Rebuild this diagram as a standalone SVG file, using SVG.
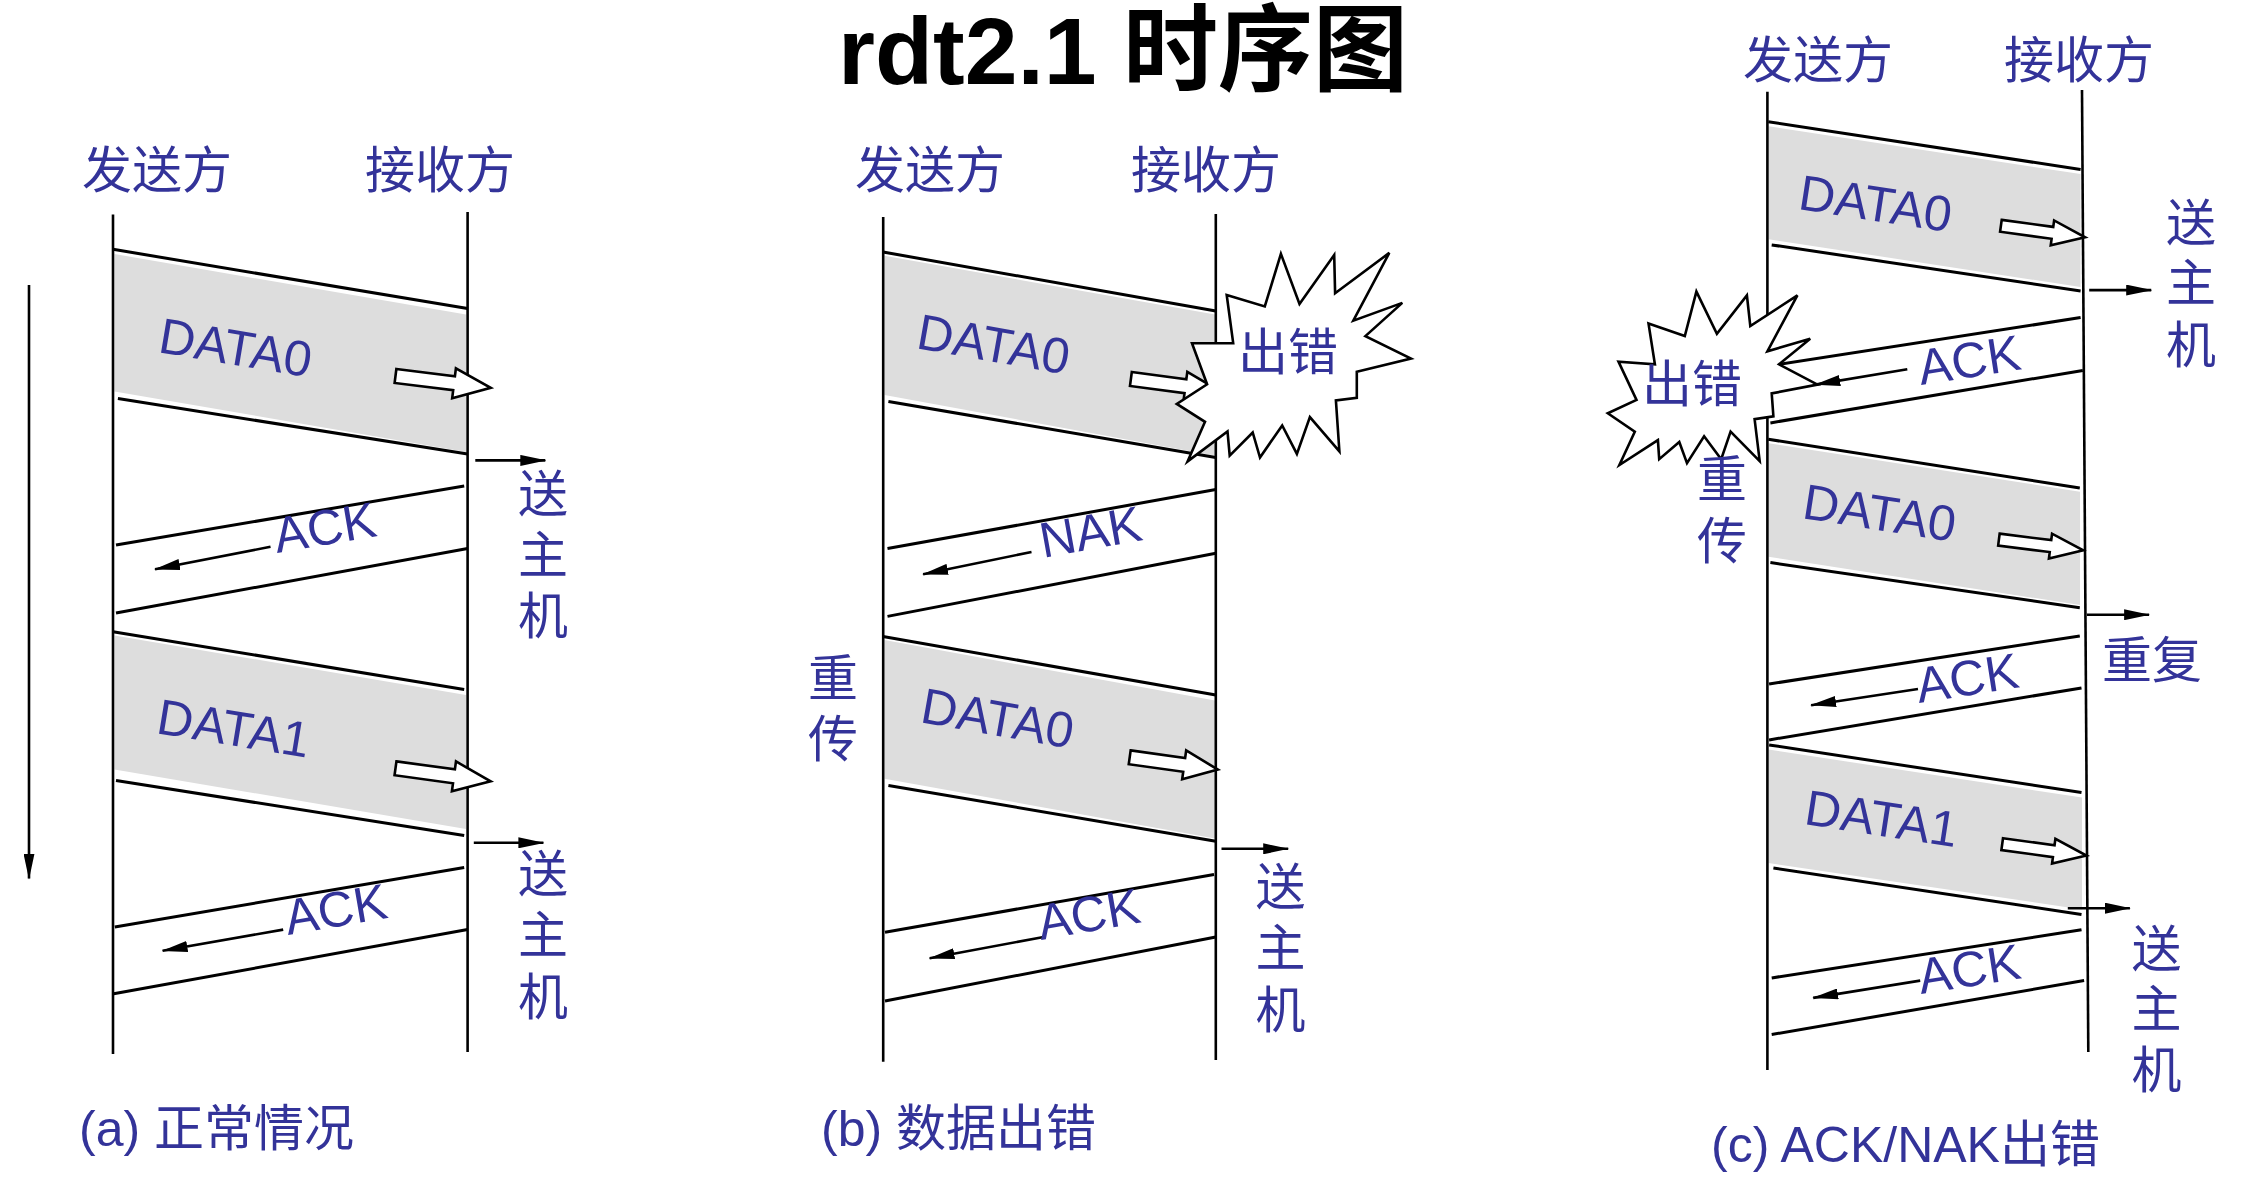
<svg xmlns="http://www.w3.org/2000/svg" xmlns:xlink="http://www.w3.org/1999/xlink" width="2251" height="1184" viewBox="0 0 2251 1184">
<style>
.t{font-family:"Liberation Sans","Noto Sans CJK SC",sans-serif;fill:#333399;font-size:50px}
.lt{font-family:"Liberation Sans","Noto Sans CJK SC",sans-serif;fill:#333399;font-size:50px}
.mid{text-anchor:middle}
.life{stroke:#000;stroke-width:2.6;fill:none}
.ln{stroke:#000;stroke-width:3;fill:none}
.ar{stroke:#000;stroke-width:2.6;fill:none;marker-end:url(#ah)}
.band{fill:#dddddd;stroke:none}
.ha{fill:#fff;stroke:#000;stroke-width:2.6;stroke-linejoin:miter}
.burst{fill:#fff;stroke:#000;stroke-width:2.6;stroke-linejoin:miter}
</style>
<defs>
<marker id="ah" markerWidth="26" markerHeight="11" refX="25" refY="5.5" orient="auto" markerUnits="userSpaceOnUse"><path d="M0,0 L26,5.5 L0,11 Z" fill="#000"/></marker>
<path id="hA" d="M0,-7H59V-15L96,0L59,15V7H0Z"/>
<path id="hB" d="M0,-7H55V-14.5L89,0L55,14.5V7H0Z"/>
<path id="hC" d="M0,-6H52V-12.5L85,0L52,12.5V6H0Z"/>
</defs>
<rect width="2251" height="1184" fill="#fff"/>

<g id="title">
<text x="838" y="84" style="font-family:'Liberation Sans','Noto Sans CJK SC',sans-serif;font-weight:bold;font-size:95px;fill:#000">rdt2.1 时序图</text>
</g>

<!-- Panel A -->
<g id="panel-a">
<g id="a-bands">
<polygon class="band" points="114.5,254 466,314.6 466,452 114.5,391.4"/>
<polygon class="band" points="114.5,635.4 466,695 466,829 114.5,769.5"/>
</g>
<g id="a-sender"><text class="t" x="82" y="188">发送方</text><line class="life" x1="113" y1="214.6" x2="113" y2="1054"/></g>
<g id="a-receiver"><text class="t" x="365" y="188">接收方</text><line class="life" x1="467.6" y1="212" x2="467.6" y2="1052"/></g>
<g id="a-time"><line class="ar" x1="29" y1="285" x2="29" y2="878.6"/></g>
<g id="a-connectors">
<line class="ln" x1="113" y1="249.3" x2="467.6" y2="308.6"/>
<line class="ln" x1="117.9" y1="398.6" x2="467.6" y2="453.9"/>
<use xlink:href="#hA" class="ha" transform="translate(395.5,376) rotate(7.1)"/>
<line class="ar" x1="475.3" y1="460.4" x2="545.3" y2="460.4"/>
<line class="ln" x1="464.2" y1="486" x2="116" y2="545"/>
<line class="ln" x1="467.6" y1="548.6" x2="116" y2="612.9"/>
<line class="ar" x1="270.5" y1="546.8" x2="155" y2="569.3"/>
<line class="ln" x1="113" y1="631.7" x2="464.2" y2="689.4"/>
<line class="ln" x1="116" y1="780.6" x2="464.2" y2="835.4"/>
<use xlink:href="#hA" class="ha" transform="translate(395.5,768.3) rotate(7.8)"/>
<line class="ar" x1="473.8" y1="842.8" x2="543.4" y2="842.8"/>
<line class="ln" x1="464.2" y1="867.4" x2="114.8" y2="927"/>
<line class="ln" x1="467.6" y1="929.6" x2="113.7" y2="993.7"/>
<line class="ar" x1="283.2" y1="929.6" x2="162.6" y2="950.8"/>
</g>
<g id="a-labels">
<text class="lt" x="157" y="352" transform="rotate(9.5 157 352)">DATA0</text>
<text class="lt" x="277" y="553" transform="rotate(-9.6 277 553)">ACK</text>
<text class="lt" x="155" y="733" transform="rotate(9.3 155 733)">DATA1</text>
<text class="lt" x="288" y="935" transform="rotate(-9.7 288 935)">ACK</text>
<text class="t mid"><tspan x="543" y="512">送</tspan><tspan x="543" y="573">主</tspan><tspan x="543" y="634">机</tspan></text>
<text class="t mid"><tspan x="543" y="892">送</tspan><tspan x="543" y="953">主</tspan><tspan x="543" y="1015">机</tspan></text>
<text class="t" x="79" y="1146">(a) 正常情况</text>
</g>
</g>

<!-- Panel B -->
<g id="panel-b">
<g id="b-bands">
<polygon class="band" points="884.5,255.7 1215,314.6 1215,455.7 884.5,395"/>
<polygon class="band" points="884.5,640 1215,700.6 1215,838.4 884.5,778.8"/>
</g>
<g id="b-sender"><text class="t" x="855" y="188">发送方</text><line class="life" x1="883.2" y1="217" x2="883.2" y2="1061.8"/></g>
<g id="b-receiver"><text class="t" x="1131" y="188">接收方</text><line class="life" x1="1215.8" y1="214" x2="1215.8" y2="1060"/></g>
<g id="b-connectors">
<line class="ln" x1="883" y1="252" x2="1215.8" y2="311"/>
<line class="ln" x1="888.4" y1="401.4" x2="1215.8" y2="457.5"/>
<use xlink:href="#hB" class="ha" transform="translate(1130.9,379) rotate(7.5)"/>
<line class="ln" x1="1215.8" y1="489.6" x2="887.5" y2="548.6"/>
<line class="ln" x1="1215.8" y1="553.2" x2="887.5" y2="616.4"/>
<line class="ar" x1="1031.5" y1="552" x2="923.1" y2="574.3"/>
<line class="ln" x1="883" y1="636.5" x2="1215.8" y2="695"/>
<line class="ln" x1="888.4" y1="785.5" x2="1215.8" y2="841.3"/>
<use xlink:href="#hB" class="ha" transform="translate(1129.7,757.3) rotate(7.9)"/>
<line class="ar" x1="1221.5" y1="848.8" x2="1288.2" y2="848.8"/>
<line class="ln" x1="1214" y1="874.5" x2="885" y2="932.2"/>
<line class="ln" x1="1215.8" y1="937" x2="885" y2="1001"/>
<line class="ar" x1="1043.7" y1="937" x2="929.6" y2="958.3"/>
</g>
<g id="b-error">
<polygon class="burst" points="1226.7,295 1264.8,306.4 1280.9,253.9 1299.5,303.9 1334.2,255 1335.1,293.2 1389.3,252.9 1353.3,320.7 1402.3,302.9 1365.4,336.1 1411,358.6 1356.8,371.8 1356.8,397.9 1335.9,400.4 1339.4,451.4 1309.9,417.1 1296.9,453.9 1282.2,425.4 1260,457.5 1252.7,432.5 1229.7,455.7 1227.5,431.4 1187.6,461.4 1205,421.8 1176.8,403.9 1207.1,384.3 1192,343.2 1233.2,343.2"/>
<text class="t" x="1238" y="370">出错</text>
</g>
<g id="b-labels">
<text class="lt" x="915" y="348" transform="rotate(10 915 348)">DATA0</text>
<text class="lt" x="1043" y="558" transform="rotate(-10.2 1043 558)">NAK</text>
<text class="lt" x="919" y="722" transform="rotate(10 919 722)">DATA0</text>
<text class="lt" x="1041" y="940" transform="rotate(-9.9 1041 940)">ACK</text>
<text class="t mid"><tspan x="833" y="696">重</tspan><tspan x="833" y="757">传</tspan></text>
<text class="t mid"><tspan x="1280.5" y="905">送</tspan><tspan x="1280.5" y="966">主</tspan><tspan x="1280.5" y="1028">机</tspan></text>
<text class="t" x="821" y="1146">(b) 数据出错</text>
</g>
</g>

<!-- Panel C -->
<g id="panel-c">
<g id="c-bands">
<polygon class="band" points="1768.5,126.3 2080.5,174.1 2080.5,287 1768.5,239.2"/>
<polygon class="band" points="1768.5,443.2 2080,491.8 2080,605 1768.5,556.8"/>
<polygon class="band" points="1768.5,749.5 2082,797.6 2082,909.4 1768.5,863.1"/>
</g>
<g id="c-sender"><text class="t" x="1743" y="78">发送方</text><line class="life" x1="1767.4" y1="91.8" x2="1767.4" y2="1070"/></g>
<g id="c-receiver"><text class="t" x="2004" y="78">接收方</text><line class="life" x1="2082" y1="90" x2="2088.3" y2="1051.9"/></g>
<g id="c-connectors">
<line class="ln" x1="1768.3" y1="121.7" x2="2080.6" y2="169.5"/>
<line class="ln" x1="1771.7" y1="244.9" x2="2080.6" y2="290.9"/>
<use xlink:href="#hC" class="ha" transform="translate(2000.9,225.8) rotate(7.8)"/>
<line class="ar" x1="2089.2" y1="290.1" x2="2151.2" y2="290.1"/>
<line class="ln" x1="2080.6" y1="317.6" x2="1768" y2="366"/>
<line class="ln" x1="2082.8" y1="370.4" x2="1770.4" y2="422.9"/>
<line class="ln" x1="1768.3" y1="439.3" x2="2079.8" y2="487.9"/>
<line class="ln" x1="1770.4" y1="562.6" x2="2079.8" y2="607.7"/>
<use xlink:href="#hC" class="ha" transform="translate(1998.9,539.6) rotate(7.2)"/>
<line class="ar" x1="2087" y1="614.7" x2="2149.1" y2="614.7"/>
<line class="ln" x1="2079.8" y1="635.9" x2="1769.1" y2="684"/>
<line class="ln" x1="2081.5" y1="687.9" x2="1769.1" y2="739.9"/>
<line class="ar" x1="1918" y1="689" x2="1811.1" y2="705.2"/>
<line class="ln" x1="1769.1" y1="744.9" x2="2081.5" y2="792.6"/>
<line class="ln" x1="1773.4" y1="868.1" x2="2081.5" y2="914.4"/>
<use xlink:href="#hC" class="ha" transform="translate(2002.2,844.2) rotate(7.7)"/>
<line class="ar" x1="2067.8" y1="908.2" x2="2129.9" y2="908.2"/>
<line class="ln" x1="2081.5" y1="929.8" x2="1771.7" y2="977.9"/>
<line class="ln" x1="2084.1" y1="980.6" x2="1771.7" y2="1034.5"/>
<line class="ar" x1="1920.2" y1="980.6" x2="1813.2" y2="997.9"/>
</g>
<g id="c-error">
<polygon class="burst" points="1648.5,323.4 1684.8,336 1696.4,291.6 1716.9,333.7 1746.9,295.4 1750.3,326.1 1797.4,295.4 1767.4,351.3 1810.2,338.7 1779,364.3 1817.5,384.6 1771.7,393.4 1773.4,416.4 1754.6,419.1 1759.7,461.2 1730.6,431.7 1721.2,459.2 1704.1,436.3 1687,463.1 1679.3,442 1659.2,459.2 1657.9,440.1 1619.4,465 1634.8,431.7 1607.8,413.3 1636.5,399.9 1618.5,361.6 1654.9,364.3"/>
<text class="t" x="1642" y="402">出错</text>
<line class="ar" x1="1907.3" y1="369.3" x2="1815.3" y2="384.6"/>
</g>
<g id="c-labels">
<text class="lt" x="1797" y="209" transform="rotate(8.7 1797 209)">DATA0</text>
<text class="lt" x="1921" y="385" transform="rotate(-8.8 1921 385)">ACK</text>
<text class="lt" x="1801" y="518" transform="rotate(8.9 1801 518)">DATA0</text>
<text class="lt" x="1919" y="703" transform="rotate(-8.8 1919 703)">ACK</text>
<text class="lt" x="1803" y="824" transform="rotate(8.7 1803 824)">DATA1</text>
<text class="lt" x="1921" y="994" transform="rotate(-8.8 1921 994)">ACK</text>
<text class="t mid"><tspan x="2191" y="241">送</tspan><tspan x="2191" y="301">主</tspan><tspan x="2191" y="363">机</tspan></text>
<text class="t mid"><tspan x="1722" y="497">重</tspan><tspan x="1722" y="559">传</tspan></text>
<text class="t" x="2102" y="678">重复</text>
<text class="t mid"><tspan x="2156.5" y="967">送</tspan><tspan x="2156.5" y="1027">主</tspan><tspan x="2156.5" y="1088">机</tspan></text>
<text class="t" x="1711" y="1162">(c) ACK/NAK出错</text>
</g>
</g>
</svg>
